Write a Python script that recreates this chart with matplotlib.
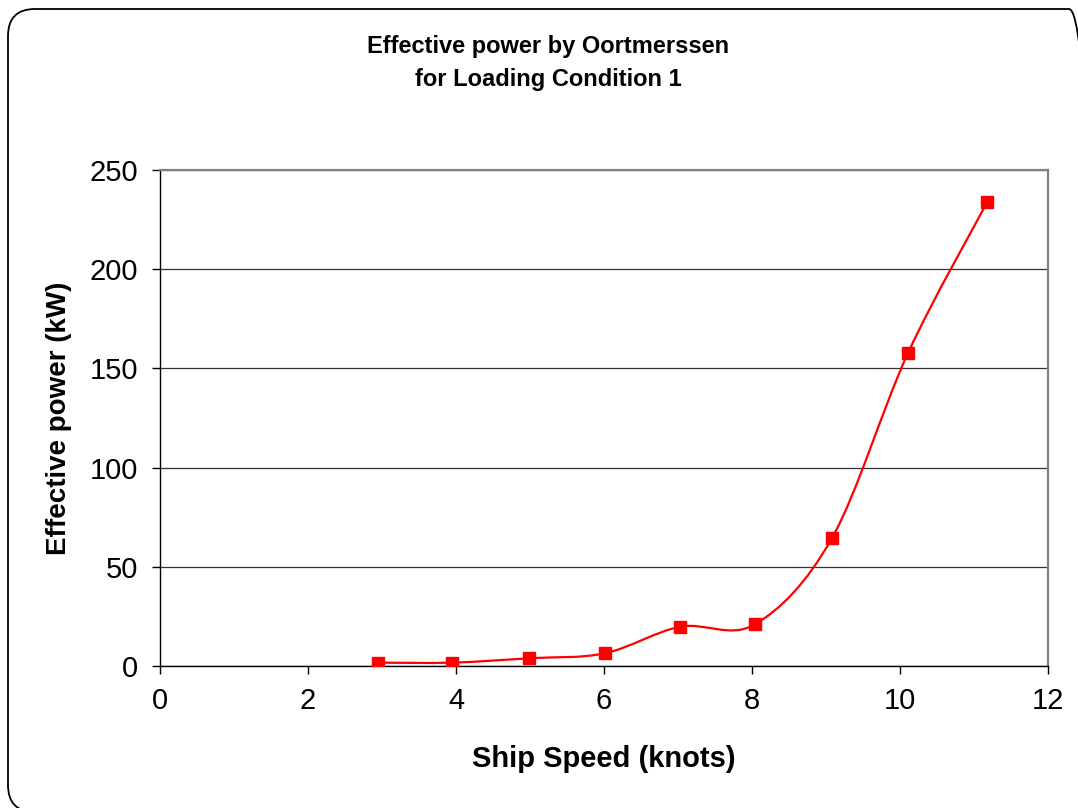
import numpy as np
import matplotlib.pyplot as plt
from matplotlib.path import Path
from matplotlib.patches import PathPatch, FancyBboxPatch

plt.rcParams['font.family'] = ['Liberation Sans', 'DejaVu Sans']

# Effective power against ship speed, loading condition 1
speed = [2.94, 3.95, 4.99, 6.01, 7.03, 8.04, 9.08, 10.11, 11.18]
power = [1.7, 1.7, 3.9, 6.4, 19.8, 21.0, 64.4, 157.9, 233.9]

x_ticks = [0, 2, 4, 6, 8, 10, 12]
y_ticks = [0, 50, 100, 150, 200, 250]

line_color = '#FF0000'


def smooth_path(xs, ys):
    # cubic bezier through every point, catmull-rom style control points
    pts = np.column_stack([xs, ys])
    verts = [pts[0]]
    codes = [Path.MOVETO]
    n = len(pts)
    for i in range(n - 1):
        p0 = pts[i - 1] if i > 0 else pts[i]
        p1 = pts[i]
        p2 = pts[i + 1]
        p3 = pts[i + 2] if i + 2 < n else pts[i + 1]
        c1 = p1 + (p2 - p0) / 6.0
        c2 = p2 - (p3 - p1) / 6.0
        verts += [c1, c2, p2]
        codes += [Path.CURVE4] * 3
    return Path(verts, codes)


fig = plt.figure(figsize=(10.78, 8.08), dpi=100)

# rounded chart frame (in inches) running just off the right and bottom edges
frame = FancyBboxPatch((0.08, -0.04), 10.88, 8.03,
                       boxstyle="round,pad=0,rounding_size=0.27",
                       transform=fig.dpi_scale_trans, fill=False,
                       edgecolor='black', linewidth=1.3, zorder=0)
fig.patches.append(frame)

ax = fig.add_axes([160 / 1078, 142 / 808, 888 / 1078, 496 / 808])

ax.add_patch(PathPatch(smooth_path(speed, power), fill=False,
                       edgecolor=line_color, linewidth=1.6, zorder=3))
ax.plot(speed, power, linestyle='none', marker='s', markersize=8.8,
        color=line_color, zorder=4)

ax.set_xlim(0, 12)
ax.set_ylim(0, 250)
ax.set_xticks(x_ticks)
ax.set_yticks(y_ticks)
ax.tick_params(axis='both', labelsize=21, length=6, width=1, direction='out')
ax.tick_params(axis='x', pad=9)
ax.tick_params(axis='y', pad=10)

ax.yaxis.grid(True, color='#333333', linewidth=0.9)
ax.set_axisbelow(True)

ax.spines['top'].set_color('#808080')
ax.spines['right'].set_color('#808080')
ax.spines['top'].set_linewidth(1.6)
ax.spines['right'].set_linewidth(1.6)
ax.spines['left'].set_linewidth(1.0)
ax.spines['bottom'].set_linewidth(1.0)

ax.set_xlabel('Ship Speed (knots)', fontsize=21, fontweight='bold', labelpad=22)
ax.set_ylabel('Effective power (kW)', fontsize=20, fontweight='bold', labelpad=12)

fig.text(548 / 1078, 1 - 63 / 808,
         'Effective power by Oortmerssen\nfor Loading Condition 1',
         ha='center', va='center', fontsize=17, fontweight='bold',
         linespacing=1.6)

fig.savefig('out.png', dpi=100)
